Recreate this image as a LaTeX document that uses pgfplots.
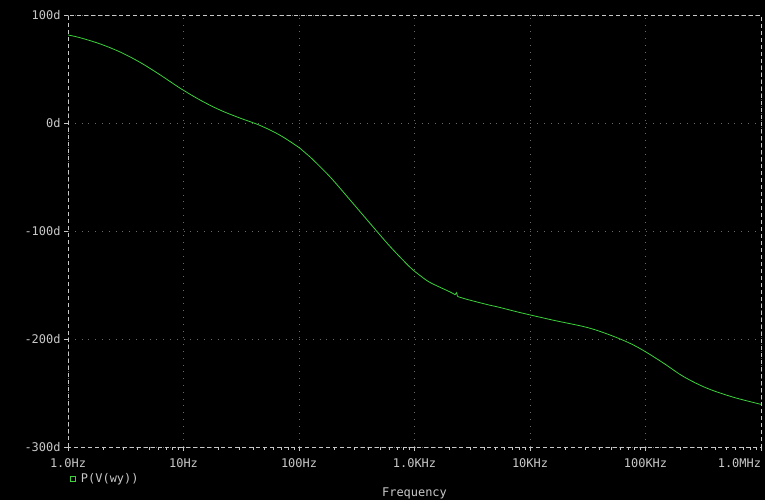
\documentclass[border=0pt]{standalone}
\usepackage{pgfplots}
\pgfplotsset{compat=1.18}
\usepackage{fontspec}
\setmonofont{DejaVu Sans Mono}
\definecolor{trace}{RGB}{60,210,60}
\definecolor{frame}{RGB}{200,200,200}
\definecolor{gridc}{RGB}{105,105,105}
\newcommand{\plotfont}{\ttfamily\fontsize{12}{14}\selectfont}

\begin{document}
\begin{tikzpicture}
\fill[black] (0,0) rectangle (765bp,500bp);
\useasboundingbox (0,0) rectangle (765bp,500bp);
\begin{axis}[
    at={(68bp,53bp)}, anchor=south west,
    scale only axis,
    width=693bp, height=432bp,
    xmode=log,
    xmin=1, xmax=1e6,
    ymin=-300, ymax=100,
    xtick={1,10,100,1000,10000,100000,1000000},
    xticklabels={1.0Hz,10Hz,100Hz,1.0KHz,10KHz,100KHz,\makebox[0pt][r]{1.0MHz}},
    ytick={-300,-200,-100,0,100},
    yticklabels={-300d,-200d,-100d,0d,100d},
    minor xtick={},
    axis line style={frame, dash pattern=on 4bp off 3bp},
    tick style={frame, solid},
    major tick length=4bp,
    tick align=outside,
    xtick pos=bottom, ytick pos=left,
    ticklabel style={font=\plotfont, text=frame},
    xticklabel style={yshift=-4bp},
    grid=major,
    major grid style={gridc, line width=0.8bp, dash pattern=on 0.8bp off 6bp},
    xlabel={Frequency},
    xlabel style={at={(axis description cs:0.5,-0.107)}, anchor=center,
        font=\plotfont, text=frame},
    legend style={at={(axis description cs:0.003,-0.074)}, anchor=west,
        fill=none, draw=none, inner sep=0pt,
        font=\plotfont, text=frame},
    legend image code/.code={\draw[trace, line width=0.7bp] (1bp,-2.5bp) rectangle (6bp,2.5bp);},
]
\addplot[trace, line width=0.8bp, smooth, tension=0.55] coordinates {
(1,81.5) (1.27,79) (1.89,73.3) (2.82,65.8) (4.2,56.2) (6.27,44.6) (9.33,32.3)
(13.9,21.3) (20.7,12) (30.8,4.6) (45.9,-2.2) (68.4,-11.3) (102,-23.4)
(124,-31.2) (185,-49.7) (277,-71.3) (412,-92.9) (614,-114.3) (914,-133.5)
(1117,-141.2) (1361,-147.6) (2028,-156.4) (2244,-159)
};
\addplot[trace, line width=0.8bp, forget plot] coordinates {
(2244,-159) (2317,-157.1) (2355,-160.6)
};
\addplot[trace, line width=0.8bp, smooth, tension=0.55, forget plot] coordinates {
(2355,-160.6) (2831,-163.2) (4217,-168) (5495,-170.8) (8185,-175.5)
(15920,-182.6) (30970,-189.2) (49320,-196.3) (73450,-204) (100000,-211.8)
(143900,-222.5) (214300,-234.9) (341200,-245.6) (580700,-254) (1000000,-260.5)
};
\addlegendentry{\hspace{3bp}P(V(wy))}
\end{axis}
\end{tikzpicture}
\end{document}
